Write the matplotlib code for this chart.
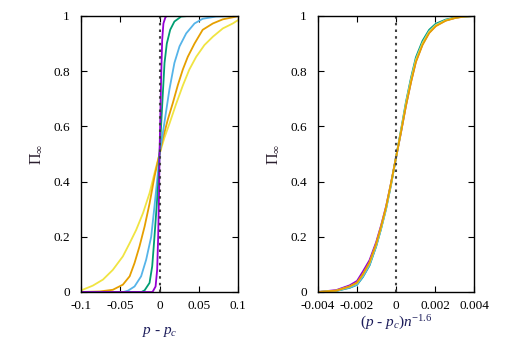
import matplotlib
matplotlib.use("Agg")
import matplotlib.pyplot as plt

plt.rcParams['font.family'] = ['Liberation Serif', 'DejaVu Serif']
plt.rcParams['mathtext.fontset'] = 'custom'
plt.rcParams['mathtext.it'] = 'Liberation Serif:italic'
plt.rcParams['mathtext.rm'] = 'Liberation Serif'

COLORS = ['#f0e442', '#e69f00', '#56b4e9', '#009e73', '#9400d3']

# left panel: Pi_inf vs p - pc, one curve per system size (widest first)
yellow_x = [-0.1, -0.098, -0.085, -0.072, -0.0595, -0.0467, -0.038, -0.0297, -0.021, -0.0127, -0.0064,
            0.0, 0.0064, 0.0127, 0.021, 0.0297, 0.038, 0.0467, 0.0573, 0.068, 0.0807, 0.0934, 0.1]
yellow_y = [0.005, 0.008, 0.023, 0.045, 0.08, 0.129, 0.177, 0.225, 0.286, 0.358, 0.43,
            0.5, 0.56, 0.61, 0.68, 0.748, 0.806, 0.852, 0.895, 0.925, 0.955, 0.973, 0.985]

orange_x = [-0.1, -0.076, -0.0595, -0.0467, -0.038, -0.0318, -0.0255, -0.019, -0.0127, -0.0064, 0.0,
            0.0042, 0.0106, 0.017, 0.0234, 0.0297, 0.036, 0.0446, 0.055, 0.068, 0.0807, 0.098, 0.1]
orange_y = [0.0, 0.002, 0.008, 0.0265, 0.057, 0.105, 0.165, 0.237, 0.32, 0.418, 0.5,
            0.555, 0.625, 0.685, 0.75, 0.806, 0.852, 0.9, 0.95, 0.973, 0.988, 0.998, 1.0]

blue_x = [-0.1, -0.046, -0.04, -0.0318, -0.0234, -0.017, -0.0106, -0.0064, -0.0021, 0.0,
          0.0034, 0.0085, 0.0127, 0.019, 0.0255, 0.034, 0.0446, 0.055, 0.072, 0.1]
blue_y = [0.0, 0.0, 0.005, 0.02, 0.057, 0.117, 0.2, 0.31, 0.43, 0.5,
          0.56, 0.656, 0.735, 0.83, 0.89, 0.937, 0.973, 0.99, 0.998, 1.0]

green_x = [-0.1, -0.023, -0.019, -0.0127, -0.0093, -0.0064, -0.0034, -0.0008, 0.0,
           0.002, 0.004, 0.0064, 0.0093, 0.0136, 0.019, 0.0276, 0.036, 0.1]
green_y = [0.0, 0.0, 0.006, 0.033, 0.093, 0.2, 0.32, 0.43, 0.5,
           0.6, 0.707, 0.83, 0.90, 0.95, 0.98, 0.998, 1.0, 1.0]

purple_x = [-0.1, -0.0095, -0.0085, -0.005, -0.003, -0.0017, -0.0004, 0.0,
            0.0008, 0.002, 0.0034, 0.005, 0.0075, 0.0093, 0.1]
purple_y = [0.0, 0.0, 0.002, 0.02, 0.08, 0.2, 0.38, 0.5,
            0.6, 0.767, 0.913, 0.973, 0.995, 1.0, 1.0]

# right panel: collapsed curves vs (p - pc) n^-1.6
col_x = [-0.004, -0.00306, -0.00238, -0.002, -0.0017, -0.00136, -0.00102, -0.00077, -0.00051, -0.00026, 0.0,
         0.00026, 0.00051, 0.00077, 0.00102, 0.00136, 0.0017, 0.00204, 0.00255, 0.00306, 0.0035, 0.004]
col_yellow = [0.0, 0.005, 0.02, 0.033, 0.063, 0.105, 0.172, 0.233, 0.305, 0.39, 0.487,
              0.584, 0.68, 0.766, 0.839, 0.9, 0.942, 0.966, 0.984, 0.994, 0.998, 1.0]
col_orange = [0.0, 0.005, 0.02, 0.034, 0.064, 0.107, 0.174, 0.236, 0.308, 0.393, 0.487,
              0.58, 0.674, 0.76, 0.833, 0.895, 0.938, 0.963, 0.983, 0.993, 0.998, 1.0]
col_blue = [0.0, 0.004, 0.016, 0.027, 0.055, 0.097, 0.165, 0.228, 0.3, 0.386, 0.485,
            0.584, 0.682, 0.77, 0.843, 0.903, 0.945, 0.968, 0.985, 0.994, 0.998, 1.0]
col_green = [0.0, 0.004, 0.015, 0.026, 0.054, 0.096, 0.165, 0.228, 0.302, 0.388, 0.488,
             0.588, 0.688, 0.776, 0.85, 0.91, 0.95, 0.972, 0.987, 0.995, 0.998, 1.0]
col_purple = [0.0, 0.007, 0.024, 0.04, 0.074, 0.115, 0.18, 0.24, 0.31, 0.393, 0.487,
              0.58, 0.676, 0.762, 0.836, 0.898, 0.94, 0.965, 0.984, 0.994, 0.998, 1.0]

left_series = [(yellow_x, yellow_y), (orange_x, orange_y), (blue_x, blue_y),
               (green_x, green_y), (purple_x, purple_y)]
right_series = [col_purple, col_green, col_blue, col_yellow, col_orange]
right_colors = [COLORS[4], COLORS[3], COLORS[2], COLORS[0], COLORS[1]]

fig = plt.figure(figsize=(5.10, 3.38), dpi=100)
ax1 = fig.add_axes([81/510, 1 - 292/338, 157/510, 276/338])
ax2 = fig.add_axes([318/510, 1 - 292/338, 156/510, 276/338])


def style(ax):
    ax.tick_params(direction='in', top=True, right=True, length=4, width=0.8,
                   labelsize=9.5)
    ax.tick_params(axis='y', pad=8)
    ax.tick_params(axis='x', pad=6)
    for s in ax.spines.values():
        s.set_linewidth(1.0)
    ax.set_ylim(0, 1)
    ax.set_yticks([0, 0.2, 0.4, 0.6, 0.8, 1])
    ax.set_yticklabels(['0', '0.2', '0.4', '0.6', '0.8', '1'])
    ax.set_ylabel(r'$\mathit{Π}_{\infty}$', fontsize=11.5, color='#2a1e2e', labelpad=6)


for (x, y), c in zip(left_series, COLORS):
    ax1.plot(x, y, color=c, lw=1.3)
ax1.axvline(0, color='#404040', lw=1.5, linestyle=(0, (1.2, 2.0)))
ax1.set_xlim(-0.1, 0.1)
ax1.set_xticks([-0.1, -0.05, 0, 0.05, 0.1])
ax1.set_xticklabels(['-0.1', '-0.05', '0', '0.05', '0.1'])
ax1.set_xlabel(r'$p$ - $p_c$', fontsize=11, color='#1c1c5a', labelpad=9)
style(ax1)

for y, c in zip(right_series, right_colors):
    ax2.plot(col_x, y, color=c, lw=1.3)
ax2.axvline(0, color='#404040', lw=1.5, linestyle=(0, (1.2, 2.0)))
ax2.set_xlim(-0.004, 0.004)
ax2.set_xticks([-0.004, -0.002, 0, 0.002, 0.004])
ax2.set_xticklabels(['-0.004', '-0.002', '0', '0.002', '0.004'])
ax2.set_xlabel(r'$(p$ - $p_c)n^{-1.6}$', fontsize=11, color='#1c1c5a', labelpad=1)
style(ax2)

fig.savefig('out.png', dpi=100)
